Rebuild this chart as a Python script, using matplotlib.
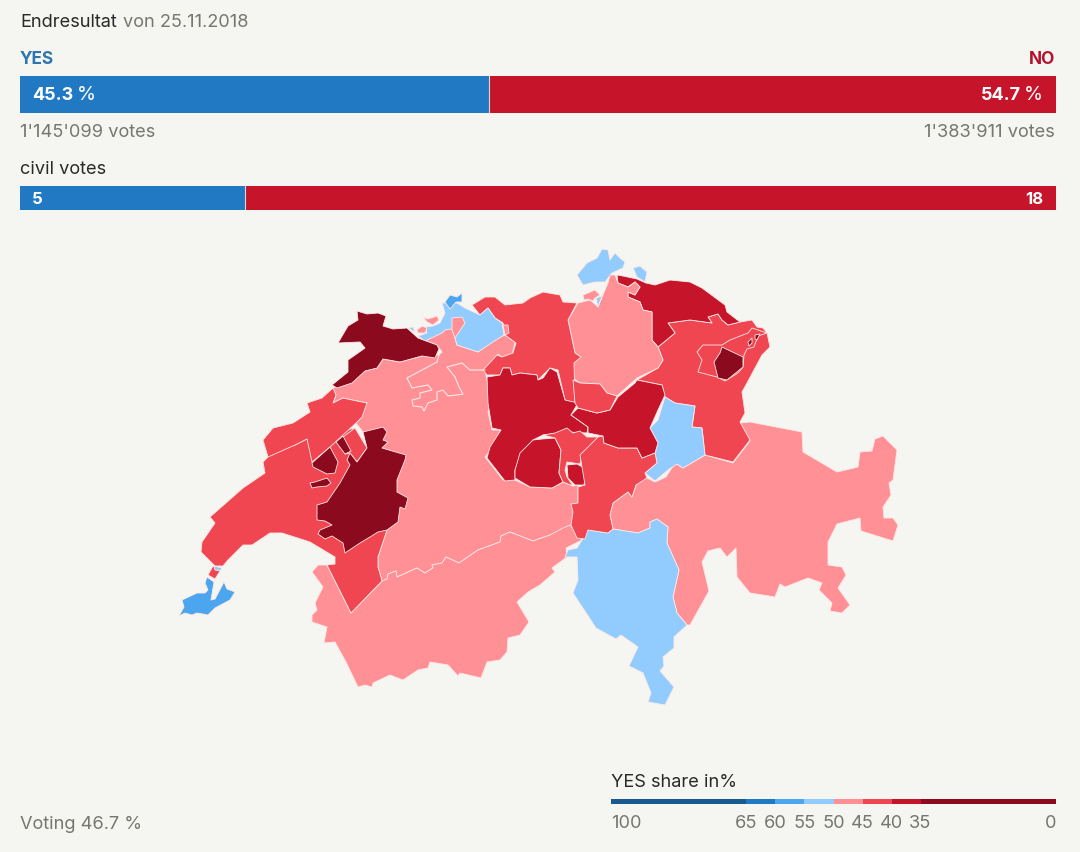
import matplotlib
matplotlib.use("Agg")
import matplotlib.pyplot as plt
from matplotlib.patches import Polygon

plt.rcParams['font.family'] = ['Inter', 'DejaVu Sans']

# ---------- data ----------
yes_pct, no_pct = 45.3, 54.7
civil_yes, civil_no = 5, 18
legend_edges = [100, 65, 60, 55, 50, 45, 40, 35, 0]
legend_labels = ['100', '65', '60', '55', '50', '45', '40', '35', '0']

BG = '#f5f5f1'
DBLUE, BLUE, MBLUE, LBLUE = '#1b5a8e', '#2279c3', '#4ba5ef', '#92ccff'
PINK, MRED, RED, DRED = '#ff9096', '#f04652', '#c6152b', '#8c0a1e'
legend_colors = [DBLUE, BLUE, MBLUE, LBLUE, PINK, MRED, RED, DRED]

bern = [(332,388),(350,383),(365,371),(377,368),(383,359),(400,362),(422,356),(439,355),(442,352),(437,345),(418,338),(425,337),(450,328),(453,318),(462,317),(465,323),(455,338),(457,345),(478,352),(493,340),(505,335),(515,342),(512,355),(502,357),(498,354),(485,370),(487,380),(492,400),(488,412),(492,430),(500,430),(495,445),(485,457),(503,480),(515,480),(530,487),(552,488),(563,482),(573,486),(578,485),(578,500),(578,530),(550,535),(533,541),(510,532),(501,536),(500,542),(478,550),(459,563),(446,557),(442,563),(432,565),(433,568),(425,573),(417,568),(397,577),(396,571),(388,574),(387,579),(382,581),(378,567),(378,557),(387,530),(397,480),(363,432),(356,423),(367,403),(357,401),(343,398),(333,403),(336,395)]
valais = [(312,572),(318,565),(327,565),(351,613),(382,581),(387,579),(388,574),(396,571),(397,577),(417,568),(425,573),(433,568),(432,565),(442,563),(446,557),(459,563),(478,550),(500,542),(501,536),(510,532),(533,541),(550,535),(563,528),(570,525),(582,540),(566,548),(567,557),(552,568),(555,572),(540,585),(528,592),(517,602),(529,622),(520,635),(508,638),(507,652),(500,660),(487,662),(481,678),(460,673),(458,676),(448,665),(430,662),(428,668),(418,670),(403,680),(390,675),(373,683),(372,687),(365,685),(358,687),(346,662),(335,642),(324,643),(327,627),(312,622),(312,615),(317,610),(315,603),(323,587)]
ticino = [(565,557),(568,550),(577,548),(582,540),(588,530),(608,533),(613,529),(638,533),(650,528),(650,522),(657,519),(668,527),(667,543),(679,570),(673,597),(677,613),(687,625),(674,637),(674,648),(663,657),(664,666),(660,671),(674,687),(665,705),(648,702),(651,693),(643,673),(629,666),(638,647),(621,635),(616,639),(596,628),(573,593),(578,580),(577,557)]
graubuenden = [(750,422),(802,432),(803,452),(837,472),(858,467),(860,452),(872,451),(875,439),(883,436),(897,450),(893,480),(889,483),(891,495),(883,507),(884,518),(893,518),(898,525),(893,541),(861,531),(860,518),(837,524),(828,542),(828,565),(842,567),(846,575),(838,588),(850,605),(842,613),(830,611),(832,603),(819,590),(822,583),(808,578),(785,587),(780,584),(775,597),(750,593),(737,577),(736,548),(727,557),(720,548),(708,551),(702,562),(709,591),(690,625),(687,625),(677,613),(673,597),(679,570),(667,543),(668,527),(657,519),(650,522),(650,528),(638,533),(613,529),(610,515),(613,503),(628,492),(632,497),(638,480),(645,477),(655,482),(666,477),(675,463),(683,468),(705,455),(733,463),(750,441),(740,423)]
glarus = [(665,397),(675,403),(695,406),(692,427),(702,428),(705,455),(683,468),(677,464),(668,470),(655,481),(645,473),(657,463),(655,453),(658,443),(650,428),(658,420)]
stgallen = [(637,380),(658,368),(663,360),(658,347),(675,333),(668,323),(690,320),(712,323),(708,317),(718,314),(722,320),(728,325),(740,322),(752,320),(757,327),(763,328),(767,333),(770,347),(762,355),(747,383),(742,392),(745,413),(740,422),(750,440),(733,462),(705,455),(702,428),(692,427),(695,406),(675,403),(665,397),(662,385)]
appenzell_ar = [(697,352),(703,345),(722,345),(730,340),(748,333),(752,328),(767,333),(758,336),(754,347),(747,349),(744,355),(743,367),(738,373),(725,381),(717,377),(698,372),(702,360)]
appenzell_ai = [(722,347),(743,357),(743,367),(727,380),(718,378),(714,362),(720,353)]
ai_bit_a = [(748,342),(752,338),(752,343),(749,346)]
ai_bit_b = [(755,335),(760,334),(757,340),(755,339)]
thurgau = [(617,275),(623,276),(637,279),(646,283),(655,285),(670,280),(690,282),(702,288),(725,305),(727,312),(740,322),(728,325),(722,320),(718,314),(708,317),(712,323),(690,320),(668,323),(675,333),(658,347),(652,340),(652,312),(643,310),(640,302),(628,297),(628,292),(635,295),(640,287),(635,282),(628,287),(618,283)]
zuerich = [(610,275),(615,275),(618,283),(628,287),(635,282),(640,287),(635,295),(628,292),(628,297),(640,302),(643,310),(652,312),(652,340),(658,347),(663,360),(658,368),(637,378),(617,396),(607,393),(600,384),(580,383),(573,378),(572,363),(581,357),(575,353),(568,320),(578,303),(590,300),(596,305),(598,307),(602,297),(608,283)]
schaffhausen = [(583,295),(595,290),(600,295),(595,298),(593,301),(588,299),(584,300)]
schaff_bit = [(596,298),(602,296),(598,307)]
constance = [(602,249),(608,250),(610,260),(615,253),(620,258),(625,262),(623,268),(612,273),(605,282),(595,282),(583,285),(577,275),(587,263),(597,258)]
untersee = [(633,268),(640,266),(647,272),(645,282),(637,277)]
aargau = [(472,305),(485,297),(495,297),(505,305),(523,303),(530,298),(543,292),(560,295),(563,302),(577,303),(568,320),(575,353),(581,357),(574,363),(575,403),(565,400),(558,370),(550,368),(538,380),(537,375),(520,373),(512,375),(510,368),(503,368),(500,375),(487,375),(483,370),(497,355),(502,357),(513,353),(516,343),(505,335),(503,323),(495,318),(488,308),(480,315)]
baselland = [(442,303),(457,303),(465,308),(480,315),(488,308),(495,318),(502,323),(504,335),(493,342),(478,352),(457,345),(455,338),(452,329),(445,330),(442,333),(425,341),(418,336),(427,333),(425,327),(433,326),(440,323),(445,313)]
pink_finger = [(452,330),(452,318),(462,317),(465,323),(455,338)]
blue_bit = [(408,328),(413,327),(415,332)]
basel_city = [(445,302),(450,295),(457,297),(462,293),(462,302),(456,302),(450,309)]
pink_bit_a = [(417,330),(422,326),(427,328),(425,333),(418,333)]
pink_bit_b = [(423,317),(428,319),(437,316),(439,320),(433,325),(427,322)]
pink_bit_c = [(503,325),(508,325),(509,333),(505,335)]
luzern = [(487,377),(500,375),(503,368),(510,368),(512,375),(520,373),(537,375),(538,380),(543,378),(550,368),(557,372),(565,400),(578,403),(571,415),(588,427),(587,433),(567,432),(562,433),(543,435),(533,440),(523,452),(515,470),(515,480),(505,481),(487,458),(490,447),(501,430),(492,428),(488,403)]
obwalden = [(533,440),(542,439),(555,438),(561,450),(559,473),(563,482),(552,488),(530,487),(515,478),(515,470),(520,453)]
nidwalden = [(543,435),(555,433),(567,428),(573,433),(580,431),(587,437),(598,437),(595,447),(582,453),(580,464),(567,462),(565,470),(567,477),(573,486),(563,482),(559,473),(561,450),(555,438)]
engelberg = [(567,465),(577,464),(586,469),(584,485),(575,485),(568,478)]
uri = [(598,437),(603,436),(604,443),(618,448),(637,448),(642,458),(655,453),(657,463),(645,473),(647,478),(636,485),(632,497),(628,492),(613,503),(610,515),(613,529),(608,533),(588,530),(585,539),(577,538),(571,525),(573,512),(571,504),(578,503),(578,487),(585,485),(580,455)]
schwyz = [(571,415),(578,408),(597,413),(610,410),(618,397),(635,383),(637,380),(662,385),(665,395),(658,410),(650,428),(658,443),(655,453),(642,458),(637,448),(618,448),(604,443),(603,436),(588,433),(588,427)]
zug = [(573,380),(580,383),(600,384),(607,393),(617,396),(610,410),(597,413),(578,408),(575,403)]
jura = [(357,311),(367,314),(378,313),(386,316),(383,326),(393,329),(407,328),(418,338),(437,345),(439,349),(435,358),(422,356),(400,362),(383,359),(377,368),(365,371),(352,383),(337,388),(332,385),(348,372),(348,360),(358,353),(365,348),(360,342),(338,343),(348,326),(358,320)]
vaud_south = [(263,440),(268,457),(263,462),(265,473),(243,488),(210,517),(215,523),(202,542),(201,552),(215,566),(223,566),(228,560),(243,545),(252,545),(270,533),(282,533),(310,542),(335,557),(335,564),(327,565),(351,613),(382,581),(378,567),(378,557),(387,530),(397,480),(367,448),(355,428),(307,439),(295,445)]
vaud_north = [(263,440),(273,428),(293,423),(310,412),(307,403),(322,398),(333,388),(336,395),(333,403),(343,398),(357,401),(367,403),(362,417),(356,423),(343,435),(330,447),(312,462),(307,439),(295,445),(268,457)]
vaud_east = [(343,437),(355,428),(367,448),(357,462),(350,453),(345,454)]
fribourg = [(363,432),(383,427),(387,432),(383,440),(388,442),(382,448),(406,455),(405,460),(397,480),(397,492),(408,498),(405,509),(400,507),(398,522),(387,530),(378,532),(370,537),(360,543),(345,553),(343,543),(332,536),(325,539),(318,534),(320,530),(332,525),(325,521),(317,520),(317,505),(327,502),(340,483),(350,465),(347,460),(350,453),(357,462),(367,448)]
broye_a = [(312,463),(330,447),(338,462),(335,473),(327,474),(313,467)]
broye_b = [(336,442),(343,436),(351,451),(345,454)]
broye_c = [(310,483),(315,482),(327,478),(331,483),(327,486),(317,487),(312,488)]
geneva_neck = [(213,566),(220,571),(215,579),(208,575)]
geneva_dot = [(214,566),(222,568),(220,571),(215,570)]
geneva = [(207,577),(214,582),(211,600),(215,599),(224,582),(227,589),(235,592),(230,600),(215,608),(208,615),(197,613),(192,615),(185,613),(179,616),(184,607),(182,600),(197,593),(205,593),(208,590),(205,583)]
solothurn_line = [(439,355),(437,362),(407,378),(412,388),(428,385),(432,390),(420,393),(420,398),(412,400),(413,406),(422,407),(424,411),(428,403),(437,400),(437,392),(443,390),(448,396),(457,395),(463,394),(459,387),(455,377),(447,367),(462,363),(470,370),(482,370),(485,370)]

map_regions = [
    (bern, PINK), (valais, PINK), (graubuenden, PINK), (ticino, LBLUE),
    (stgallen, MRED), (glarus, LBLUE), (appenzell_ar, MRED), (appenzell_ai, DRED),
    (ai_bit_a, DRED), (ai_bit_b, DRED), (thurgau, RED), (zuerich, PINK),
    (schaffhausen, PINK), (schaff_bit, LBLUE), (constance, LBLUE), (untersee, LBLUE),
    (aargau, MRED), (baselland, LBLUE), (pink_finger, PINK), (blue_bit, LBLUE),
    (basel_city, MBLUE), (pink_bit_a, PINK),
    (pink_bit_b, PINK), (pink_bit_c, PINK), (luzern, RED), (obwalden, RED),
    (nidwalden, MRED), (engelberg, RED), (uri, MRED), (schwyz, RED), (zug, MRED),
    (jura, DRED), (vaud_south, MRED), (vaud_north, MRED), (vaud_east, MRED),
    (fribourg, DRED), (broye_a, DRED), (broye_b, DRED), (broye_c, DRED),
    (geneva_neck, MRED), (geneva_dot, LBLUE), (geneva, MBLUE),
]

W, H = 1080, 852
fig = plt.figure(figsize=(W / 100, H / 100), dpi=100, facecolor=BG)


def px_axes(x0, y0, x1, y1):
    a = fig.add_axes([x0 / W, 1 - y1 / H, (x1 - x0) / W, (y1 - y0) / H])
    a.axis('off')
    return a


# map and text layer, in picture units, above the bars
ax = fig.add_axes([0, 0, 1, 1])
ax.set_zorder(5)
ax.set_xlim(0, W)
ax.set_ylim(H, 0)
ax.axis('off')
EDGE = '#ffe9e6'
for verts, colour in map_regions:
    ax.add_patch(Polygon(verts, closed=True, facecolor=colour, edgecolor=EDGE,
                         linewidth=0.6, joinstyle='round'))
xs, ys = zip(*solothurn_line)
ax.plot(xs, ys, color=EDGE, lw=0.8)

# result bars
bar1 = px_axes(20, 76, 1056, 113)
bar1.set_xlim(0, yes_pct + no_pct)
bar1.set_ylim(0, 1)
bar1.barh(0.5, yes_pct, height=1, color=BLUE)
bar1.barh(0.5, no_pct, left=yes_pct, height=1, color=RED)
bar1.axvline(yes_pct, color='#d8d8d8', lw=0.8)

bar2 = px_axes(20, 186, 1056, 210)
bar2.set_xlim(0, civil_yes + civil_no)
bar2.set_ylim(0, 1)
bar2.barh(0.5, civil_yes, height=1, color=BLUE)
bar2.barh(0.5, civil_no, left=civil_yes, height=1, color=RED)
bar2.axvline(civil_yes, color='#d8d8d8', lw=0.8)

# legend: outer classes are drawn at two thirds of the scale of the inner ones
leg = px_axes(611, 799, 1056, 804)
pos = [0.0]
for a, b in zip(legend_edges[:-1], legend_edges[1:]):
    pos.append(pos[-1] + (a - b) * (0.667 if a - b > 5 else 1.0))
leg.set_xlim(0, pos[-1])
leg.set_ylim(0, 1)
for i, c in enumerate(legend_colors):
    leg.barh(0.5, pos[i + 1] - pos[i], left=pos[i], height=1, color=c)

GREY, DARK = '#77766f', '#2a2a2a'
NOBLUE, NORED = '#2e75ad', '#b5122b'
S = 13.1

ax.text(20, 27, 'Endresultat', fontsize=S, color=DARK, va='baseline')
ax.text(123, 27, 'von 25.11.2018', fontsize=S, color=GREY, va='baseline')
ax.text(20, 64, 'YES', fontsize=12.4, color=NOBLUE, fontweight='bold', va='baseline')
ax.text(1055, 64, 'NO', fontsize=12.4, color=NORED, fontweight='bold', ha='right', va='baseline')
ax.text(32, 100, f'{yes_pct}', fontsize=13, color='white', fontweight='bold', va='baseline')
ax.text(77, 100, '%', fontsize=14, color='white', va='baseline')
ax.text(1021, 100, f'{no_pct}', fontsize=13, color='white', fontweight='bold', ha='right', va='baseline')
ax.text(1043, 100, '%', fontsize=14, color='white', ha='right', va='baseline')
ax.text(20, 137, "1'145'099 votes", fontsize=S, color=GREY, va='baseline')
ax.text(1055, 137, "1'383'911 votes", fontsize=S, color=GREY, ha='right', va='baseline')
ax.text(20, 174, 'civil votes', fontsize=S, color=DARK, va='baseline')
ax.text(32, 204, f'{civil_yes}', fontsize=12, color='white', fontweight='bold', va='baseline')
ax.text(1043, 204, f'{civil_no}', fontsize=12, color='white', fontweight='bold', ha='right', va='baseline')
ax.text(20, 829, 'Voting 46.7 %', fontsize=S, color=GREY, va='baseline')
ax.text(611, 787, 'YES share in%', fontsize=S, color=DARK, va='baseline')

for i, lab in enumerate(legend_labels):
    x = 611 + 445 * pos[i] / pos[-1]
    ha = 'left' if i == 0 else ('right' if i == len(legend_labels) - 1 else 'center')
    ax.text(x, 828, lab, fontsize=S, color=GREY, ha=ha, va='baseline')

fig.savefig('out.png', dpi=100, facecolor=BG)
